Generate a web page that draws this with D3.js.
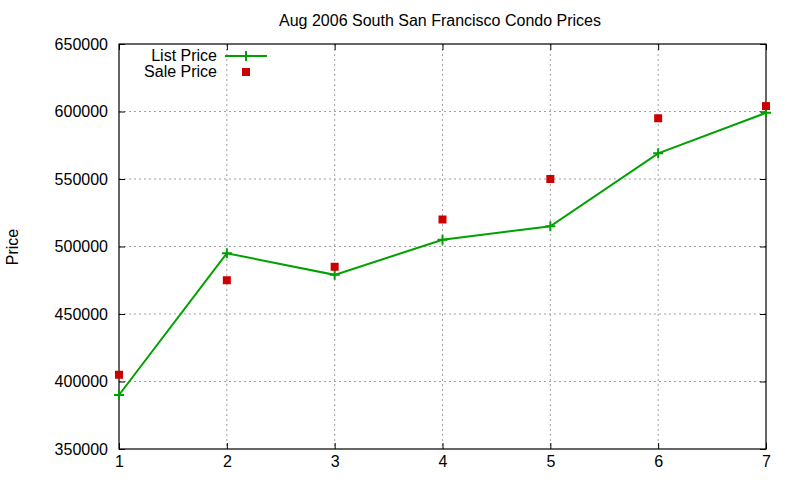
<!DOCTYPE html>
<html>
<head>
<meta charset="utf-8">
<title>Condo Prices</title>
<script src="https://d3js.org/d3.v7.min.js"></script>
<style>
  body { margin: 0; background: #fff; }
  text { font-family: "Liberation Sans", Arial, sans-serif; fill: #000; }
</style>
</head>
<body>
<div id="chart"></div>
<script>
// chart data
const months = [1, 2, 3, 4, 5, 6, 7];
const listPrice = [390000, 495000, 479000, 505000, 515000, 569000, 599000];
const salePrice = [405000, 475000, 485000, 520000, 550000, 595000, 604000];
const yTicks = [350000, 400000, 450000, 500000, 550000, 600000, 650000];

const W = 800, H = 480;
const margin = { top: 44, right: 34, bottom: 31, left: 119 };
const width = W - margin.left - margin.right,
      height = H - margin.top - margin.bottom;
const fs = 16;

const svg = d3.select("#chart").append("svg")
  .attr("width", W).attr("height", H);

const g = svg.append("g")
  .attr("transform", `translate(${margin.left},${margin.top})`);

const x = d3.scaleLinear().domain([1, 7]).range([0, width]);
const y = d3.scaleLinear().domain([350000, 650000]).range([height, 0]);

// grid
g.append("g").selectAll("line").data(months.slice(1, -1)).enter().append("line")
  .attr("x1", d => x(d)).attr("x2", d => x(d))
  .attr("y1", 0).attr("y2", height)
  .attr("stroke", "#a0a0a0").attr("stroke-dasharray", "2,3");
g.append("g").selectAll("line").data(yTicks.slice(1, -1)).enter().append("line")
  .attr("x1", 0).attr("x2", width)
  .attr("y1", d => y(d)).attr("y2", d => y(d))
  .attr("stroke", "#a0a0a0").attr("stroke-dasharray", "2,3");

// axes (ticks inward, mirrored)
const tickLen = 6;
const axBottom = g.append("g").attr("transform", `translate(0,${height})`)
  .call(d3.axisBottom(x).tickValues(months).tickFormat(d3.format("d")).tickSizeInner(-tickLen).tickSizeOuter(0).tickPadding(7));
const axTop = g.append("g")
  .call(d3.axisTop(x).tickValues(months).tickFormat("").tickSizeInner(-tickLen).tickSizeOuter(0));
const axLeft = g.append("g")
  .call(d3.axisLeft(y).tickValues(yTicks).tickFormat(d3.format("d")).tickSizeInner(-tickLen).tickSizeOuter(0).tickPadding(11));
const axRight = g.append("g").attr("transform", `translate(${width},0)`)
  .call(d3.axisRight(y).tickValues(yTicks).tickFormat("").tickSizeInner(-tickLen).tickSizeOuter(0));

[axBottom, axTop, axLeft, axRight].forEach(a => {
  a.select(".domain").remove();
  a.selectAll("line").attr("stroke", "#000");
  a.selectAll("text").attr("font-size", fs).attr("font-family", "Liberation Sans, Arial, sans-serif");
});

// frame
g.append("rect").attr("width", width).attr("height", height)
  .attr("fill", "none").attr("stroke", "#000").attr("stroke-width", 1.2);

// list price line
const green = "#00a000", red = "#cc0000";
const line = d3.line().x((d, i) => x(months[i])).y(d => y(d));
g.append("path").datum(listPrice)
  .attr("d", line).attr("fill", "none")
  .attr("stroke", green).attr("stroke-width", 2);

const plus = (sel, cx, cy) => {
  sel.append("path")
    .attr("d", `M${cx - 5},${cy}H${cx + 5}M${cx},${cy - 5}V${cy + 5}`)
    .attr("stroke", green).attr("stroke-width", 2);
};
listPrice.forEach((v, i) => plus(g, x(months[i]), y(v)));

// sale price points
g.append("g").selectAll("rect").data(salePrice).enter().append("rect")
  .attr("x", (d, i) => x(months[i]) - 4)
  .attr("y", d => y(d) - 4)
  .attr("width", 8).attr("height", 8)
  .attr("fill", red);

// title and y label
svg.append("text").attr("x", 440).attr("y", 26)
  .attr("text-anchor", "middle").attr("font-size", fs)
  .text("Aug 2006 South San Francisco Condo Prices");
svg.append("text")
  .attr("transform", "translate(18,247) rotate(-90)")
  .attr("text-anchor", "middle").attr("font-size", fs)
  .text("Price");

// legend
const leg = svg.append("g");
leg.append("text").attr("x", 217).attr("y", 61).attr("text-anchor", "end")
  .attr("font-size", fs).text("List Price");
leg.append("line").attr("x1", 225).attr("x2", 267).attr("y1", 56).attr("y2", 56)
  .attr("stroke", green).attr("stroke-width", 2);
plus(leg, 246, 56);
leg.append("text").attr("x", 217).attr("y", 77).attr("text-anchor", "end")
  .attr("font-size", fs).text("Sale Price");
leg.append("rect").attr("x", 242).attr("y", 68).attr("width", 8).attr("height", 8)
  .attr("fill", red);
</script>
</body>
</html>
